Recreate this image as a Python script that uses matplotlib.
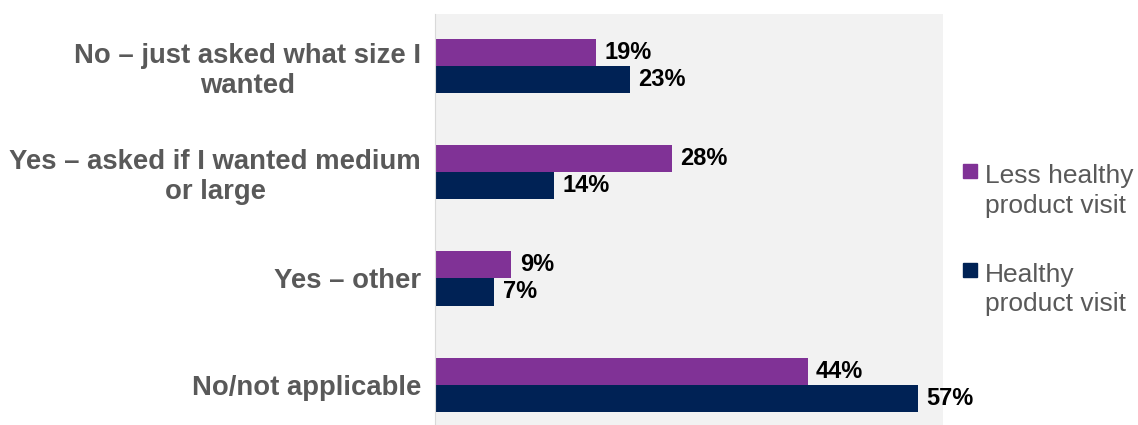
import matplotlib
matplotlib.use("Agg")
import matplotlib.pyplot as plt
import numpy as np
from matplotlib.patches import Rectangle

categories = ["No – just asked what size I\nwanted",
              "Yes – asked if I wanted medium\nor large",
              "Yes – other",
              "No/not applicable"]
less_healthy = [19, 28, 9, 44]
healthy = [23, 14, 7, 57]
series_names = ["Less healthy\nproduct visit", "Healthy\nproduct visit"]

PURPLE = "#803296"
NAVY = "#002255"
GREY_TXT = "#595959"

plt.rcParams['font.family'] = ['Liberation Sans', 'DejaVu Sans']

W, H = 1138, 425
fig = plt.figure(figsize=(W/100, H/100), dpi=100)
ax = fig.add_axes([435/W, 0.0, 508/W, 1 - 14/H])
ax.set_facecolor("#f2f2f2")

y = np.arange(len(categories))
h = 0.255
b1 = ax.barh(y - h/2, less_healthy, height=h, color=PURPLE)
b2 = ax.barh(y + h/2, healthy, height=h, color=NAVY)

for bars, vals in ((b1, less_healthy), (b2, healthy)):
    for bar, v in zip(bars, vals):
        ax.text(bar.get_width() + 1.0, bar.get_y() + bar.get_height()/2, f"{v}%",
                va="center", ha="left", fontsize=17, fontweight="bold", color="black")

ax.set_xlim(0, 60)
ax.set_ylim(3.38, -0.49)
ax.set_xticks([])
ax.set_yticks(y)
ax.set_yticklabels(categories, fontsize=19.8, fontweight="bold", color=GREY_TXT,
                   multialignment="center")
ax.tick_params(axis="y", length=0, pad=10)
for s in ["top", "right", "bottom"]:
    ax.spines[s].set_visible(False)
ax.spines["left"].set_color("#d9d9d9")

# Legend (drawn manually to match the reference layout)
colors = [PURPLE, NAVY]
square_centers = [171.5, 270]
baselines = [183, 282]
line_gap = 29.5
for name, col, sc, bl in zip(series_names, colors, square_centers, baselines):
    size = 14
    fig.patches.append(Rectangle(((963)/W, 1 - (sc + size/2)/H), size/W, size/H,
                                 transform=fig.transFigure, color=col))
    for i, line in enumerate(name.split("\n")):
        fig.text(985/W, 1 - (bl + i*line_gap)/H, line, fontsize=19, color=GREY_TXT,
                 ha="left", va="baseline")

fig.savefig("out.png", dpi=100)
